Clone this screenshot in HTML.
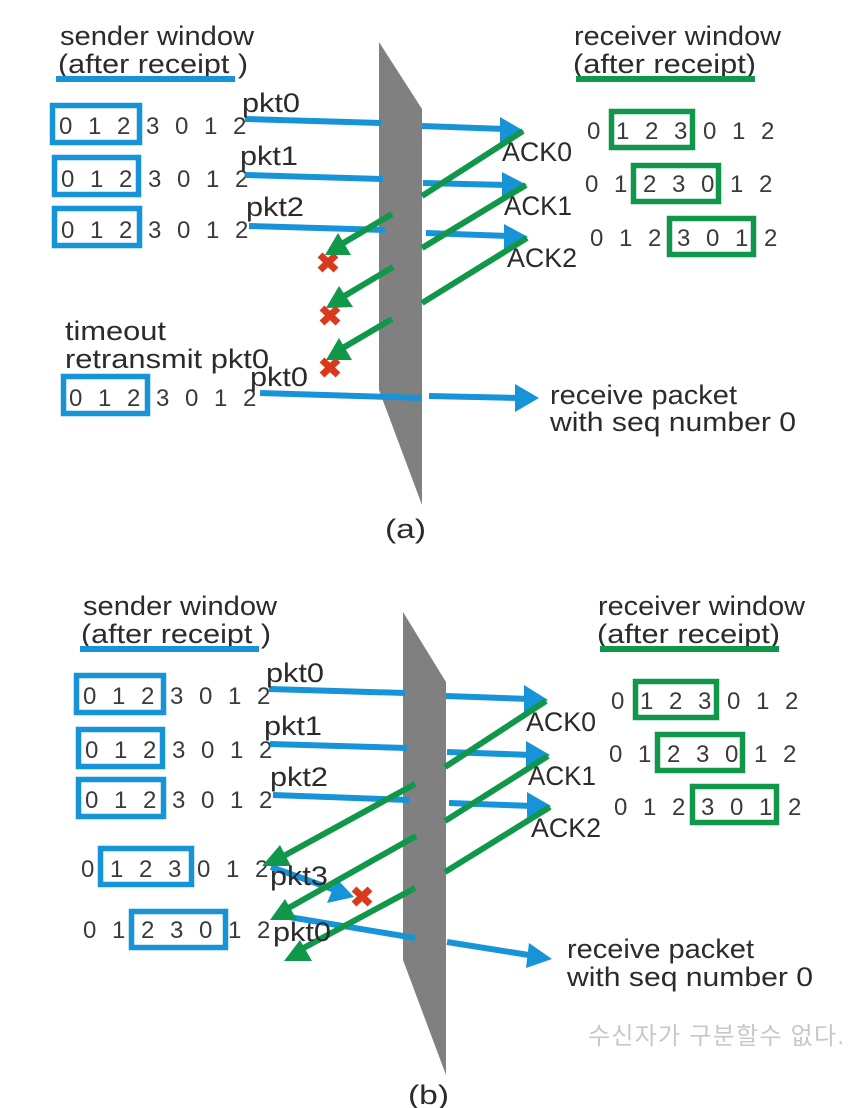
<!DOCTYPE html>
<html><head><meta charset="utf-8"><style>
html,body{margin:0;padding:0;background:#fff}
svg{display:block}
text{font-family:"Liberation Sans",sans-serif;fill:#2b2b2b;font-size:27px}
.d{font-size:24px;fill:#3a3a3a}
.b{fill:none;stroke:#1793d8;stroke-width:5.500}
.g{fill:none;stroke:#11974a;stroke-width:5.500}
.bl{stroke:#1793d8;stroke-width:6;fill:none}
.gl{stroke:#11974a;stroke-width:6;fill:none}
.bh{fill:#1793d8}.gh{fill:#11974a}
.x{stroke:#d93a1e;stroke-width:7;fill:none}
</style></head><body>
<svg width="861" height="1108" viewBox="0 0 861 1108" xmlns="http://www.w3.org/2000/svg">
<rect width="861" height="1108" fill="#fff"/>
<polygon points="379,42 422,109 422,505 379,390" fill="#808080"/>
<polygon points="403,612 446,682 446,1075 403,960" fill="#808080"/>

<!-- Panel A static text -->
<text x="60" y="45" textLength="194" lengthAdjust="spacingAndGlyphs">sender window</text>
<text x="58" y="73" textLength="190" lengthAdjust="spacingAndGlyphs">(after receipt )</text>
<line x1="56" y1="79" x2="235" y2="79" class="bl"/>
<text x="574" y="45" textLength="207" lengthAdjust="spacingAndGlyphs">receiver window</text>
<text x="573" y="73" textLength="183" lengthAdjust="spacingAndGlyphs">(after receipt)</text>
<line x1="576" y1="79" x2="755" y2="79" class="gl"/>

<rect x="52.500" y="105.500" width="87" height="37" class="b"/>
<rect x="54.500" y="157.500" width="84" height="37" class="b"/>
<rect x="54.500" y="208.500" width="85" height="37" class="b"/>
<rect x="63.500" y="376.500" width="84" height="37" class="b"/>
<text class="d" x="59 88 117 146 175 204 233" y="134">0123012</text>
<text class="d" x="61 90 119 148 177 206 235" y="187">0123012</text>
<text class="d" x="61 90 119 148 177 206 235" y="238">0123012</text>
<text class="d" x="69 98 127 156 185 214 243" y="406">0123012</text>

<rect x="611.500" y="111.500" width="81" height="36" class="g"/>
<rect x="633.500" y="165.500" width="85" height="36" class="g"/>
<rect x="669.500" y="218.500" width="84" height="36" class="g"/>
<text class="d" x="587 616 645 674 703 732 761" y="139">0123012</text>
<text class="d" x="585 614 643 672 701 730 759" y="192">0123012</text>
<text class="d" x="590 619 648 677 706 735 764" y="246">0123012</text>

<!-- Panel A lines -->
<g class="bl">
<path d="M245 119L381 123M422 126L505 129M245 175L383 179M423 183L507 185M249 226L385 230M426 233L508 236M260 393L421 398M429 396L520 398"/>
</g>
<polygon class="bh" points="500,117 524,131 500,145"/>
<polygon class="bh" points="502,172 527,185 502,199"/>
<polygon class="bh" points="504,224 528,237 504,250"/>
<polygon class="bh" points="515,384 539,398 515,412"/>
<g class="gl">
<path d="M523 131L422 196M392 214L340 245M526 185L422 248M393 267L341 298M527 238L422 303M392 319L341 349"/>
</g>
<g class="x">
<path d="M320 255L336 270M336 255L320 270M322 308L338 323M338 308L322 323M322 360L338 375M338 360L322 375"/>
</g>
<polygon class="gh" points="325,255 338,233 351,255"/>
<polygon class="gh" points="326,308 339,286 353,307"/>
<polygon class="gh" points="326,360 339,338 352,360"/>

<!-- Panel A labels -->
<text x="242" y="112" textLength="58" lengthAdjust="spacingAndGlyphs">pkt0</text>
<text x="240" y="165" textLength="58" lengthAdjust="spacingAndGlyphs">pkt1</text>
<text x="246" y="216" textLength="58" lengthAdjust="spacingAndGlyphs">pkt2</text>
<text x="502" y="161" textLength="70" lengthAdjust="spacingAndGlyphs">ACK0</text>
<text x="504" y="215" textLength="68" lengthAdjust="spacingAndGlyphs">ACK1</text>
<text x="507" y="267" textLength="70" lengthAdjust="spacingAndGlyphs">ACK2</text>
<text x="65" y="340" textLength="101" lengthAdjust="spacingAndGlyphs">timeout</text>
<text x="65" y="368" textLength="204" lengthAdjust="spacingAndGlyphs">retransmit pkt0</text>
<text x="250" y="386" textLength="58" lengthAdjust="spacingAndGlyphs">pkt0</text>
<text x="550" y="404" textLength="187" lengthAdjust="spacingAndGlyphs">receive packet</text>
<text x="550" y="431" textLength="246" lengthAdjust="spacingAndGlyphs">with seq number 0</text>
<text x="385" y="538" textLength="41" lengthAdjust="spacingAndGlyphs">(a)</text>

<!-- Panel B static text -->
<text x="83" y="615" textLength="194" lengthAdjust="spacingAndGlyphs">sender window</text>
<text x="81" y="643" textLength="190" lengthAdjust="spacingAndGlyphs">(after receipt )</text>
<line x1="80" y1="649" x2="259" y2="649" class="bl"/>
<text x="598" y="615" textLength="207" lengthAdjust="spacingAndGlyphs">receiver window</text>
<text x="597" y="643" textLength="183" lengthAdjust="spacingAndGlyphs">(after receipt)</text>
<line x1="600" y1="649" x2="779" y2="649" class="gl"/>

<rect x="76.500" y="675.500" width="87" height="37" class="b"/>
<rect x="78.500" y="729.500" width="84" height="37" class="b"/>
<rect x="78.500" y="779.500" width="85" height="37" class="b"/>
<rect x="100.500" y="848.500" width="91" height="36" class="b"/>
<rect x="131.500" y="911.500" width="94" height="36" class="b"/>
<text class="d" x="83 112 141 170 199 228 257" y="704">0123012</text>
<text class="d" x="85 114 143 172 201 230 259" y="758">0123012</text>
<text class="d" x="85 114 143 172 201 230 259" y="808">0123012</text>
<text class="d" x="81 110 139 168 197 226 255" y="877">0123012</text>
<text class="d" x="83 112 141 170 199 228 257" y="938">0123012</text>

<rect x="635.500" y="681.500" width="81" height="36" class="g"/>
<rect x="657.500" y="734.500" width="85" height="36" class="g"/>
<rect x="692.500" y="786.500" width="84" height="36" class="g"/>
<text class="d" x="611 640 669 698 727 756 785" y="709">0123012</text>
<text class="d" x="609 638 667 696 725 754 783" y="762">0123012</text>
<text class="d" x="614 643 672 701 730 759 788" y="815">0123012</text>

<text x="588" y="1044" style="font-family:'Liberation Sans','Noto Sans CJK KR',sans-serif;font-size:24px;fill:#c8c8c8" textLength="256">수신자가 구분할수 없다.</text>

<!-- Panel B lines -->
<g class="bl">
<path d="M269 689L405 693M446 696L530 699M270 744L407 748M447 752L532 755M273 795L409 800M449 803L533 806M271 867L335 890M277 915L415 938M447 942L535 956"/>
</g>
<polygon class="bh" points="524,685 548,700 524,714"/>
<polygon class="bh" points="526,741 550,755 526,769"/>
<polygon class="bh" points="527,792 551,806 527,820"/>
<polygon class="bh" points="337,879 354,897 327,903"/>
<polygon class="bh" points="529,943 552,959 526,968"/>
<g class="gl">
<path d="M546 701L445 767M415 784L280 858M548 756L445 821M416 836L285 910M550 807L445 872M415 888L298 951"/>
</g>
<polygon class="gh" points="262,866 280,845 291,866"/>
<polygon class="gh" points="270,920 285,899 297,920"/>
<polygon class="gh" points="284,961 300,940 312,961"/>
<path class="x" d="M354 889L370 904M370 889L354 904"/>

<!-- Panel B labels -->
<text x="266" y="682" textLength="58" lengthAdjust="spacingAndGlyphs">pkt0</text>
<text x="264" y="735" textLength="58" lengthAdjust="spacingAndGlyphs">pkt1</text>
<text x="270" y="786" textLength="58" lengthAdjust="spacingAndGlyphs">pkt2</text>
<text x="270" y="885" textLength="58" lengthAdjust="spacingAndGlyphs">pkt3</text>
<text x="273" y="941" textLength="58" lengthAdjust="spacingAndGlyphs">pkt0</text>
<text x="526" y="731" textLength="70" lengthAdjust="spacingAndGlyphs">ACK0</text>
<text x="528" y="785" textLength="68" lengthAdjust="spacingAndGlyphs">ACK1</text>
<text x="531" y="837" textLength="70" lengthAdjust="spacingAndGlyphs">ACK2</text>
<text x="567" y="958" textLength="187" lengthAdjust="spacingAndGlyphs">receive packet</text>
<text x="567" y="986" textLength="246" lengthAdjust="spacingAndGlyphs">with seq number 0</text>
<text x="408" y="1104" textLength="41" lengthAdjust="spacingAndGlyphs">(b)</text>
</svg>
</body></html>
